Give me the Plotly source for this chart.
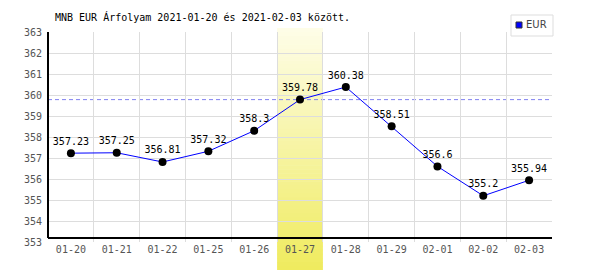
import plotly.graph_objects as go

title_text = "MNB EUR Árfolyam 2021-01-20 és 2021-02-03 között."
series_name = "EUR"
dates = ["01-20", "01-21", "01-22", "01-25", "01-26", "01-27",
         "01-28", "01-29", "02-01", "02-02", "02-03"]
rates = [357.23, 357.25, 356.81, 357.32, 358.3, 359.78,
         360.38, 358.51, 356.6, 355.2, 355.94]
highlight_date = "01-27"
y_ticks = list(range(353, 364))

MONO = "DejaVu Sans Mono"
hi = dates.index(highlight_date)
ref_value = rates[hi]

fig = go.Figure()

fig.add_trace(go.Scatter(
    x=dates, y=rates, mode="lines+markers+text",
    line=dict(color="#0000ff", width=1),
    marker=dict(color="black", size=8),
    text=[str(v) for v in rates], textposition="top center",
    textfont=dict(family=MONO, size=10, color="black"),
    cliponaxis=False, showlegend=False, hoverinfo="x+y",
))

shapes = []
# gradient highlight band (drawn as thin strips)
n = 60
top_px, bot_px, plot_top, plot_h = 28, 270, 32, 210
c_top = (254, 253, 232)
c_bot = (239, 235, 94)
for i in range(n):
    p0 = top_px + (bot_px - top_px) * i / n
    p1 = top_px + (bot_px - top_px) * (i + 1) / n + 0.6
    t = (i + 0.5) / n
    col = tuple(round(c_top[k] + (c_bot[k] - c_top[k]) * t) for k in range(3))
    shapes.append(dict(
        type="rect", xref="x", yref="paper",
        x0=hi - 0.5, x1=hi + 0.5,
        y0=1 - (p1 - plot_top) / plot_h, y1=1 - (p0 - plot_top) / plot_h,
        fillcolor="rgb(%d,%d,%d)" % col, line=dict(width=0), layer="between",
    ))
# reference dashed line
shapes.append(dict(type="line", xref="paper", yref="y", x0=0, x1=1,
                   y0=ref_value, y1=ref_value,
                   line=dict(color="#8080f0", width=1, dash="4px,3px"), layer="between"))
# axis lines
axis_y = 353 + 4 / 21
shapes.append(dict(type="line", xref="paper", yref="y", x0=0, x1=1,
                   y0=axis_y, y1=axis_y, line=dict(color="black", width=2), layer="above"))
shapes.append(dict(type="line", xref="paper", yref="y", x0=0, x1=0,
                   y0=axis_y, y1=363, line=dict(color="black", width=2), layer="above"))
# legend box
lx0, lx1 = (511 - 48) / 504, (553 - 48) / 504
ly0, ly1 = 1 + (32 - 36) / 210, 1 + (32 - 15) / 210
shapes.append(dict(type="rect", xref="paper", yref="paper", x0=lx0, x1=lx1, y0=ly0, y1=ly1,
                   fillcolor="white", line=dict(color="#dddddd", width=1), layer="above"))
shapes.append(dict(type="rect", xref="paper", yref="paper",
                   x0=(516 - 48) / 504, x1=(522 - 48) / 504,
                   y0=1 + (32 - 28) / 210, y1=1 + (32 - 22) / 210,
                   fillcolor="#0000ff", line=dict(color="#333333", width=1), layer="above"))

annotations = [
    dict(text=title_text, xref="paper", yref="paper", x=(53 - 48) / 504, y=1 + (32 - 17) / 210,
         xanchor="left", yanchor="middle", showarrow=False,
         font=dict(family=MONO, size=10, color="black")),
    dict(text=series_name, xref="paper", yref="paper", x=(524 - 48) / 504, y=1 + (32 - 25) / 210,
         xanchor="left", yanchor="middle", showarrow=False,
         font=dict(family="DejaVu Sans", size=10, color="#444444")),
]

fig.update_layout(
    width=600, height=270,
    margin=dict(l=48, r=48, t=32, b=28, pad=0),
    paper_bgcolor="white", plot_bgcolor="white",
    shapes=shapes, annotations=annotations,
    showlegend=False,
    xaxis=dict(type="category", tickson="boundaries", showgrid=True, gridcolor="#dddddd",
               gridwidth=1, ticks="", zeroline=False, showline=False,
               range=[-0.5, len(dates) - 0.5],
               tickfont=dict(family=MONO, size=10, color="#555555")),
    yaxis=dict(range=[353, 363], tickvals=y_ticks, showgrid=True, gridcolor="#dddddd",
               gridwidth=1, ticks="", zeroline=False, showline=False,
               ticklabelstandoff=5,
               tickfont=dict(family=MONO, size=10, color="#555555")),
)

fig.write_html("out.html")
